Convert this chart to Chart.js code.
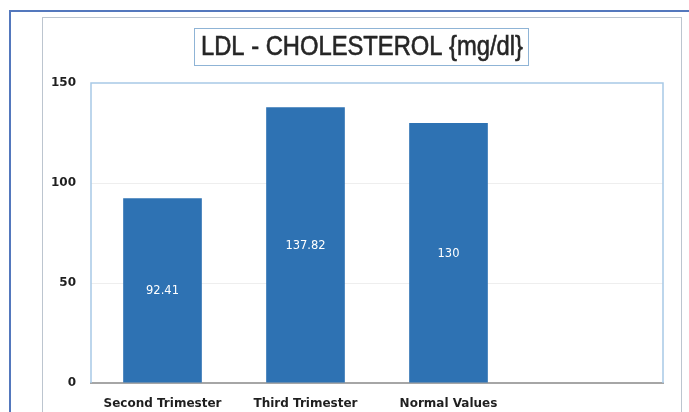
<!DOCTYPE html>
<html>
<head>
<meta charset="utf-8">
<script src="https://cdn.jsdelivr.net/npm/chart.js@4.4.1/dist/chart.umd.min.js"></script>
<style>
  html, body { margin: 0; padding: 0; background: #fff; overflow: hidden; }
  #wrap { position: relative; width: 689px; height: 412px; }
  .outer { position: absolute; left: 9px; top: 10px; width: 700px; height: 420px; border: 2px solid #5478bd; box-sizing: border-box; }
  .inner { position: absolute; left: 42px; top: 17px; width: 640px; height: 420px; border: 1px solid #bcc5cf; box-sizing: border-box; }
  canvas { position: absolute; left: 0; top: 0; }
</style>
</head>
<body>
<div id="wrap">
  <div class="outer"></div>
  <div class="inner"></div>
  <canvas id="chart" width="689" height="412"></canvas>
</div>
<script>
const titleText = "LDL - CHOLESTEROL {mg/dl}";
const categories = ["Second Trimester", "Third Trimester", "Normal Values", ""];
const ldlValues = [92.41, 137.82, 130, null];
const valueLabels = ["92.41", "137.82", "130", ""];
const yTicks = [0, 50, 100, 150];

// boxed title drawn on the canvas, squeezed like the original
const boxedTitle = {
  id: "boxedTitle",
  afterDraw(chart) {
    const ctx = chart.ctx;
    ctx.save();
    ctx.font = "27px 'Liberation Sans', Arial, sans-serif";
    const w = ctx.measureText(titleText).width;
    const target = 322;
    const cx = 362, cy = 47;
    ctx.strokeStyle = "#8fb4d6";
    ctx.lineWidth = 1;
    ctx.strokeRect(194.5, 28.5, 334, 37);
    ctx.translate(cx, cy);
    ctx.scale(target / w, 1);
    ctx.fillStyle = "#262626";
    ctx.strokeStyle = "#262626";
    ctx.lineWidth = 0.6;
    ctx.textAlign = "center";
    ctx.textBaseline = "middle";
    ctx.fillText(titleText, 0, 1);
    ctx.strokeText(titleText, 0, 1);
    ctx.restore();
  }
};

// plot frame + value labels in the middle of each bar
const frameAndLabels = {
  id: "frameAndLabels",
  beforeDatasetsDraw(chart) {
    const { ctx, chartArea: a } = chart;
    ctx.save();
    ctx.strokeStyle = "#a8c9e6";
    ctx.lineWidth = 1.5;
    ctx.beginPath();
    ctx.moveTo(a.left, a.bottom);
    ctx.lineTo(a.left, a.top);
    ctx.lineTo(a.right, a.top);
    ctx.lineTo(a.right, a.bottom);
    ctx.stroke();
    ctx.restore();
  },
  afterDatasetsDraw(chart) {
    const ctx = chart.ctx;
    const meta = chart.getDatasetMeta(0);
    ctx.save();
    ctx.fillStyle = "#ffffff";
    ctx.font = "11.5px 'DejaVu Sans', sans-serif";
    ctx.textAlign = "center";
    ctx.textBaseline = "middle";
    meta.data.forEach((bar, i) => {
      if (!valueLabels[i]) return;
      ctx.fillText(valueLabels[i], bar.x, (bar.y + bar.base) / 2 + 1);
    });
    ctx.restore();
  }
};

new Chart(document.getElementById("chart"), {
  type: "bar",
  data: {
    labels: categories,
    datasets: [{
      label: titleText,
      data: ldlValues,
      backgroundColor: "#2e72b3",
      borderWidth: 0,
      categoryPercentage: 1,
      barPercentage: 0.55
    }]
  },
  options: {
    responsive: false,
    animation: false,
    layout: { padding: { left: 40, right: 26, top: 83, bottom: 0 } },
    plugins: {
      legend: { display: false },
      title: { display: false },
      tooltip: { enabled: false }
    },
    scales: {
      x: {
        grid: { display: false, drawTicks: false },
        border: { color: "#a6a6a6", width: 2 },
        ticks: {
          color: "#1f1f1f",
          font: { family: "'DejaVu Sans', sans-serif", size: 12, weight: "bold" },
          padding: 14,
          maxRotation: 0,
          autoSkip: false
        },
        afterFit: (s) => { s.height = 29; }
      },
      y: {
        min: 0,
        max: 150,
        afterBuildTicks: (s) => { s.ticks = yTicks.map(v => ({ value: v })); },
        grid: { color: (c) => c.tick.value === 0 || c.tick.value === 150 ? "rgba(0,0,0,0)" : "#eeeeee", drawTicks: false },
        border: { display: false },
        ticks: {
          color: "#1f1f1f",
          font: { family: "'DejaVu Sans', sans-serif", size: 12, weight: "bold" },
          padding: 15
        },
        afterFit: (s) => { s.width = 51; }
      }
    }
  },
  plugins: [boxedTitle, frameAndLabels]
});
</script>
</body>
</html>
